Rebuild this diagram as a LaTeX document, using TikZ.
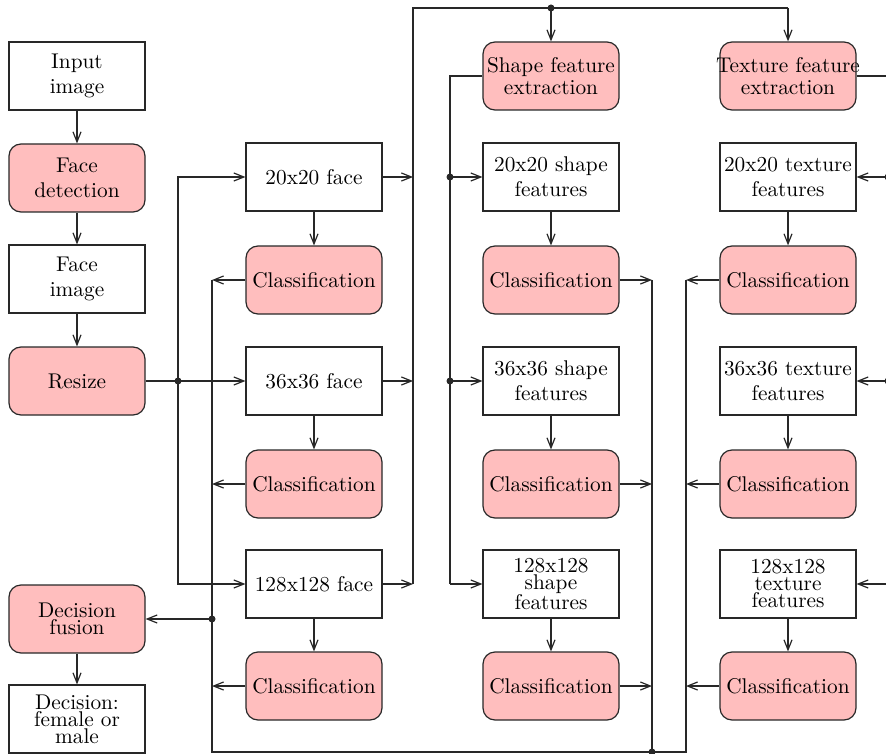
\documentclass[tikz,border=0pt]{standalone}
\usepackage{fontspec}
\newfontfamily\figfont{lmroman10-regular}[Extension=.otf]
\usetikzlibrary{arrows.meta}
\definecolor{boxpink}{RGB}{255,190,190}
\definecolor{ink}{RGB}{40,40,40}

\begin{document}
\begin{tikzpicture}[x=1pt,y=-1pt,
  font=\figfont\fontsize{21.3}{25}\selectfont,
  plain/.style={draw=ink, line width=1.2pt, fill=white, text=black,
    minimum width=136pt, minimum height=68pt, inner sep=0pt, align=center},
  proc/.style={plain, fill=boxpink, rounded corners=12pt},
  wire/.style={draw=ink, line width=1.2pt},
  arr/.style={wire, -{Straight Barb[length=10pt,width=8pt]}},
  dot/.style={circle, fill=ink, inner sep=0pt, minimum size=7pt},
  tight/.style={font=\figfont\fontsize{21.3}{17}\selectfont}
]
\useasboundingbox (0,0) rectangle (886,754);
\clip (0,0) rectangle (886,754);

% left column: preprocessing and fusion
\node[plain] (inp)  at (77,76)  {Input\\image};
\node[proc]  (fdet) at (77,178) {Face\\detection};
\node[plain] (fimg) at (77,279) {Face\\image};
\node[proc]  (rsz)  at (77,381) {Resize};
\node[proc, tight] (fus) at (77,619) {Decision\\fusion};
\node[plain, tight] (dec) at (77,719) {Decision:\\female or\\male};

% raw face resolutions
\node[plain] (f20)   at (314,177) {20x20 face};
\node[proc]  (fc20)  at (314,280) {Classification};
\node[plain] (f36)   at (314,381) {36x36 face};
\node[proc]  (fc36)  at (314,484) {Classification};
\node[plain] (f128)  at (314,584) {128x128 face};
\node[proc]  (fc128) at (314,686) {Classification};

% shape features
\node[proc, font=\figfont\fontsize{21.3}{22}\selectfont] (shp) at (551,76) {Shape feature\\extraction};
\node[plain] (s20)   at (551,177) {20x20 shape\\features};
\node[proc]  (sc20)  at (551,280) {Classification};
\node[plain] (s36)   at (551,381) {36x36 shape\\features};
\node[proc]  (sc36)  at (551,484) {Classification};
\node[plain, tight] (s128) at (551,584) {128x128\\shape\\features};
\node[proc]  (sc128) at (551,686) {Classification};

% texture features (the first line is allowed to run past the box edge)
\node[proc, font=\figfont\fontsize{21.3}{22}\selectfont] (tex) at (788,76) {\makebox[0pt][c]{Texture feature}\\extraction};
\node[plain] (t20)   at (788,177) {20x20 texture\\features};
\node[proc]  (tc20)  at (788,280) {Classification};
\node[plain] (t36)   at (788,381) {36x36 texture\\features};
\node[proc]  (tc36)  at (788,484) {Classification};
\node[plain, tight] (t128) at (788,584) {128x128\\texture\\features};
\node[proc]  (tc128) at (788,686) {Classification};

% bus coordinates
\coordinate (jr)  at (178,381);
\coordinate (top) at (413,8);
\coordinate (sb)  at (450,76);
\coordinate (tb)  at (888,76);
\coordinate (b1)  at (212,752);
\coordinate (b3)  at (652,752);
\coordinate (b4)  at (686,752);

% preprocessing chain
\draw[arr] (inp) -- (fdet);
\draw[arr] (fdet) -- (fimg);
\draw[arr] (fimg) -- (rsz);

% resize fan-out
\draw[wire] (rsz) -- (jr);
\draw[arr] (jr) -- (f36);
\draw[arr] (jr) |- (f20);
\draw[arr] (jr) |- (f128);
\node[dot] at (jr) {};

% each representation feeds its classifier
\foreach \a/\b in {f20/fc20, f36/fc36, f128/fc128,
                   s20/sc20, s36/sc36, s128/sc128,
                   t20/tc20, t36/tc36, t128/tc128}
  \draw[arr] (\a) -- (\b);

% faces to the feature extractors
\draw[arr] (f20) -- (f20 -| top);
\draw[arr] (f36) -- (f36 -| top);
\draw[arr] (f128) -- (f128 -| top);
\draw[wire] (f128 -| top) -- (top) -- (top -| tex);
\draw[arr] (top -| tex) -- (tex);
\draw[arr] (top -| shp) -- (shp);
\node[dot] at (top -| shp) {};

% shape feature distribution
\draw[wire] (shp) -- (sb) -- (s128 -| sb);
\draw[arr] (s20 -| sb) -- (s20);
\draw[arr] (s36 -| sb) -- (s36);
\draw[arr] (s128 -| sb) -- (s128);
\node[dot] at (s20 -| sb) {};
\node[dot] at (s36 -| sb) {};

% texture feature distribution
\draw[wire] (tex) -- (tb) -- (t128 -| tb);
\draw[arr] (t20 -| tb) -- (t20);
\draw[arr] (t36 -| tb) -- (t36);
\draw[arr] (t128 -| tb) -- (t128);
\node[dot] at (t20 -| tb) {};
\node[dot] at (t36 -| tb) {};

% classifier outputs collected for fusion
\draw[arr] (fc20) -- (fc20 -| b1);
\draw[arr] (fc36) -- (fc36 -| b1);
\draw[arr] (fc128) -- (fc128 -| b1);
\draw[arr] (sc20) -- (sc20 -| b3);
\draw[arr] (sc36) -- (sc36 -| b3);
\draw[arr] (sc128) -- (sc128 -| b3);
\draw[arr] (tc20) -- (tc20 -| b4);
\draw[arr] (tc36) -- (tc36 -| b4);
\draw[arr] (tc128) -- (tc128 -| b4);
\draw[wire] (fc20 -| b1) -- (b1) -- (b4) -- (tc20 -| b4);
\draw[wire] (sc20 -| b3) -- (b3);
\node[dot] at (b3) {};

% fusion and decision
\draw[arr] (fus -| b1) -- (fus);
\node[dot] at (fus -| b1) {};
\draw[arr] (fus) -- (dec);
\end{tikzpicture}
\end{document}
